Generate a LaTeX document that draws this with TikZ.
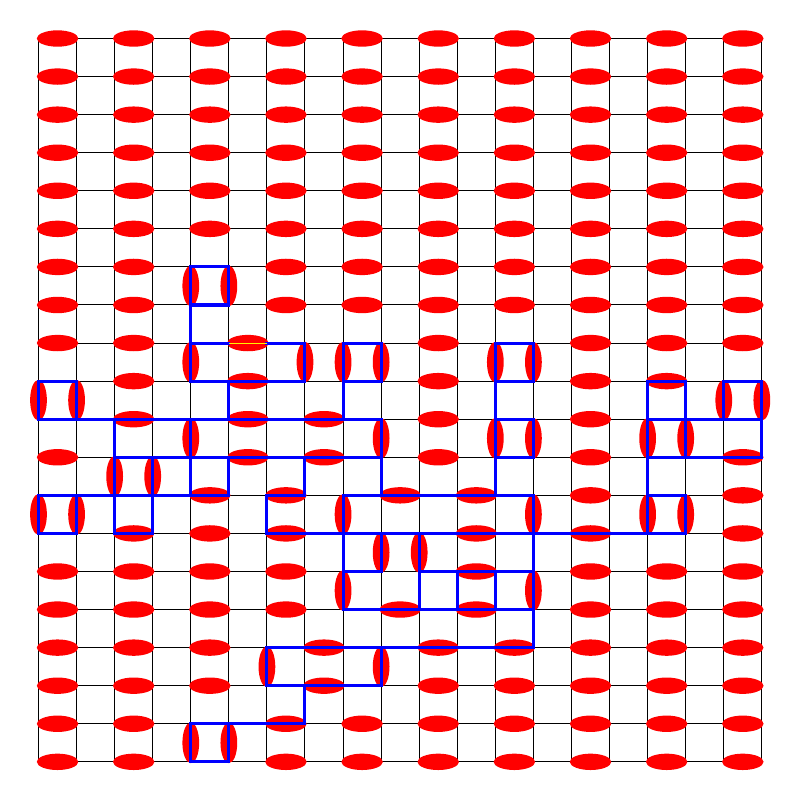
\documentclass[tikz,border=0pt]{standalone}
\begin{document}
\begin{tikzpicture}[x=1cm,y=-1cm,
  gridline/.style={black,line width=0.75pt},
  hdimer/.style={red},
  loopline/.style={blue,line width=2.25pt,line cap=rect},
  hiline/.style={yellow,line width=0.75pt}]
\useasboundingbox (-0.0113,-0.0113) rectangle (21.0026,21.0026);
% vertices
\foreach \i in {0,...,19} {
  \foreach \j in {0,...,19} {
    \coordinate (v\i-\j) at (\i+1,\j+1);
  }
}
% grid
\foreach \i in {0,...,19} {
  \draw[gridline] (v\i-0) -- (v\i-19);
  \draw[gridline] (v0-\i) -- (v19-\i);
}
% standard horizontal dimers (pairs 2k,2k+1)
\foreach \r/\ks in {0/{0,...,9},1/{0,...,9},2/{0,...,9},3/{0,...,9},4/{0,...,9},5/{0,...,9},
  6/{0,1,3,4,5,6,7,8,9},7/{0,1,3,4,5,6,7,8,9},
  8/{0,1,5,7,8,9},9/{1,5,7,8},10/{1,5,7},11/{0,5,7,9},12/{2,3,7,9},13/{1,2,3,7,9},
  14/{0,1,2,3,7,8,9},15/{0,1,2,3,7,8,9},
  16/{0,1,2,5,6,7,8,9},17/{0,1,2,5,6,7,8,9},
  18/{0,1,3,4,5,6,7,8,9},19/{0,1,3,4,5,6,7,8,9}} {
  \foreach \k in \ks {
    \fill[hdimer] (2*\k+1.5,\r+1) ellipse [x radius=0.545cm, y radius=0.215cm];
  }
}
% shifted horizontal dimers (left column / row)
\foreach \c/\r in {5/8,5/9,5/10,5/11,7/10,7/11,9/12,11/12,11/13,11/14,9/15,11/15,7/16,7/17} {
  \fill[hdimer] (\c+1.5,\r+1) ellipse [x radius=0.545cm, y radius=0.215cm];
}
% vertical dimers (column / top row)
\foreach \c/\r in {4/6,5/6,4/8,7/8,8/8,9/8,12/8,13/8,0/9,1/9,18/9,19/9,
  4/10,9/10,12/10,13/10,16/10,17/10,2/11,3/11,
  0/12,1/12,8/12,13/12,16/12,17/12,9/13,10/13,8/14,13/14,6/16,9/16,4/18,5/18} {
  \fill[hdimer] (\c+1,\r+1.5) ellipse [x radius=0.22cm, y radius=0.535cm];
}
% loops
\foreach \a/\b/\c/\d in {4/6/5/6,5/6/5/7,4/7/5/7,4/6/4/7,
  4/7/4/9,4/8/5/8,6/8/7/8,4/9/7/9,7/8/7/9,5/9/5/10,
  8/8/9/8,8/9/9/9,8/8/8/9,9/8/9/9,8/9/8/10,
  0/10/9/10,0/9/1/9,0/9/0/10,1/9/1/10,
  2/10/2/13,3/11/3/13,2/11/9/11,4/10/4/12,5/11/5/12,7/11/7/12,9/10/9/12,
  0/12/5/12,6/12/7/12,8/12/13/12,
  0/12/0/13,1/12/1/13,0/13/1/13,2/13/3/13,
  6/12/6/13,6/13/17/13,8/12/8/15,12/8/12/12,
  12/8/13/8,12/9/13/9,13/8/13/9,12/10/13/10,12/11/13/11,13/10/13/11,13/12/13/16,
  16/9/17/9,18/9/19/9,16/9/16/13,17/9/17/11,18/9/18/10,19/9/19/11,
  16/10/19/10,16/11/19/11,16/12/17/12,17/12/17/13,
  8/14/9/14,9/13/9/14,10/13/10/15,10/14/13/14,8/15/13/15,11/14/11/15,12/14/12/15,
  6/16/13/16,6/16/6/17,9/16/9/17,6/17/9/17,7/17/7/18,
  4/18/7/18,4/18/4/19,5/18/5/19,4/19/5/19} {
  \draw[loopline] (v\a-\b) -- (v\c-\d);
}
% highlighted edge
\draw[hiline] (v5-8) -- (v6-8);
\end{tikzpicture}
\end{document}
